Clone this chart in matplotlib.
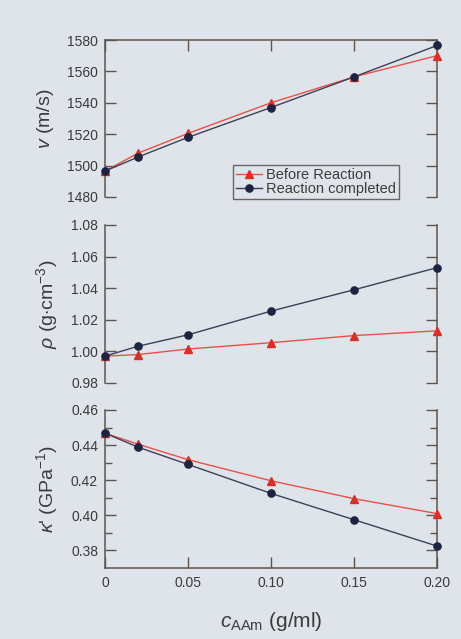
import matplotlib
matplotlib.use("Agg")
import matplotlib.pyplot as plt
from matplotlib.ticker import FixedLocator

plt.rcParams['font.family'] = ['Liberation Sans', 'DejaVu Sans']
plt.rcParams['mathtext.fontset'] = 'custom'
plt.rcParams['mathtext.rm'] = 'Liberation Sans'
plt.rcParams['mathtext.it'] = 'Liberation Sans:italic'

# ---- data ----
c_aam = [0.0, 0.02, 0.05, 0.10, 0.15, 0.20]
v_before = [1496.5, 1508.0, 1520.5, 1540.0, 1556.5, 1570.0]
v_after = [1496.5, 1505.5, 1518.0, 1537.0, 1556.5, 1576.5]
rho_before = [0.997, 0.998, 1.0015, 1.0055, 1.010, 1.013]
rho_after = [0.997, 1.0033, 1.0105, 1.0255, 1.0390, 1.0530]
kappa_before = [0.4468, 0.4405, 0.4317, 0.4197, 0.4095, 0.4010]
kappa_after = [0.4468, 0.4388, 0.4290, 0.4125, 0.3975, 0.3825]
labels = ["Before Reaction", "Reaction completed"]
xticks = [0, 0.05, 0.10, 0.15, 0.20]
xticklabels = ["0", "0.05", "0.10", "0.15", "0.20"]

bg = '#dfe4ea'
spine_c = '#5e544c'
text_c = '#3c3a3a'
red_line = '#e85048'
red_mk = '#d6302a'
blue_line = '#3c4058'
blue_mk = '#1d2442'

fig = plt.figure(figsize=(4.61, 6.39), dpi=100, facecolor=bg)

L, R = 105/461, 437/461
panels = [(40, 197), (225, 383), (410, 568)]
axes = []
for top, bot in panels:
    ax = fig.add_axes([L, 1 - bot/639, R - L, (bot - top)/639])
    ax.set_facecolor('none')
    axes.append(ax)

ydata = [(v_before, v_after), (rho_before, rho_after), (kappa_before, kappa_after)]
ylims = [(1480, 1580), (0.98, 1.08), (0.37, 0.46)]
ymaj = [20, 0.02, 0.02]
ylabels = [r"$v$ (m/s)", r"$\rho$ (g$\cdot$cm$^{-3}$)", r"$\kappa$' (GPa$^{-1}$)"]
yfmt = ["{:.0f}", "{:.2f}", "{:.2f}"]

for i, ax in enumerate(axes):
    yb, ya = ydata[i]
    h1, = ax.plot(c_aam, yb, color=red_line, lw=1.0, marker='^', ms=5.5,
                  mfc=red_mk, mec=red_mk, clip_on=False, zorder=3, label=labels[0])
    h2, = ax.plot(c_aam, ya, color=blue_line, lw=1.0, marker='o', ms=5.2,
                  mfc=blue_mk, mec=blue_mk, clip_on=False, zorder=4, label=labels[1])
    ax.set_xlim(0, 0.20)
    ax.set_ylim(*ylims[i])
    lo, hi = ylims[i]
    if i == 2:
        ticks = [0.38, 0.40, 0.42, 0.44, 0.46]
    else:
        n = int(round((hi - lo) / ymaj[i]))
        ticks = [lo + k * ymaj[i] for k in range(n + 1)]
    ax.yaxis.set_major_locator(FixedLocator(ticks))
    ax.set_yticklabels([yfmt[i].format(t) for t in ticks])
    ax.tick_params(axis='y', which='major', direction='in', length=8, width=1.0,
                   color=spine_c, left=True, right=True, labelsize=10,
                   labelcolor=text_c, pad=5)
    if i == 2:
        ax.yaxis.set_minor_locator(FixedLocator([0.39, 0.41, 0.43, 0.45]))
        ax.tick_params(axis='y', which='minor', direction='in', length=5, width=1.0,
                       color=spine_c, left=True, right=True)
    ax.set_xticks(xticks)
    for s in ax.spines.values():
        s.set_color(spine_c)
        s.set_linewidth(1.1)
    ax.spines['bottom'].set_visible(i == 2)
    ax.spines['top'].set_visible(i == 0)
    ax.tick_params(axis='x', direction='in', length=8, width=1.0, color=spine_c,
                   top=(i == 0), bottom=(i == 2), labelbottom=(i == 2),
                   labelsize=10, labelcolor=text_c, pad=6)
    if i == 2:
        ax.set_xticklabels(xticklabels)
    ax.set_ylabel(ylabels[i], fontsize=14, color=text_c, labelpad=8)
    if i == 0:
        leg = ax.legend(handles=[h1, h2], loc='lower left',
                        bbox_to_anchor=(0.386, -0.012), fontsize=10.5,
                        frameon=True, fancybox=False, edgecolor='#4a4440',
                        facecolor='none', handlelength=1.75, handletextpad=0.3,
                        borderpad=0.2, labelspacing=0.0, borderaxespad=0.0)
        leg.get_frame().set_linewidth(1.0)
        for t in leg.get_texts():
            t.set_color(text_c)

axes[2].set_xlabel(r"$c_{\mathrm{AAm}}$ (g/ml)", fontsize=15, color=text_c, labelpad=14)

fig.align_ylabels(axes)
fig.savefig("out.png", dpi=100, facecolor=bg)
